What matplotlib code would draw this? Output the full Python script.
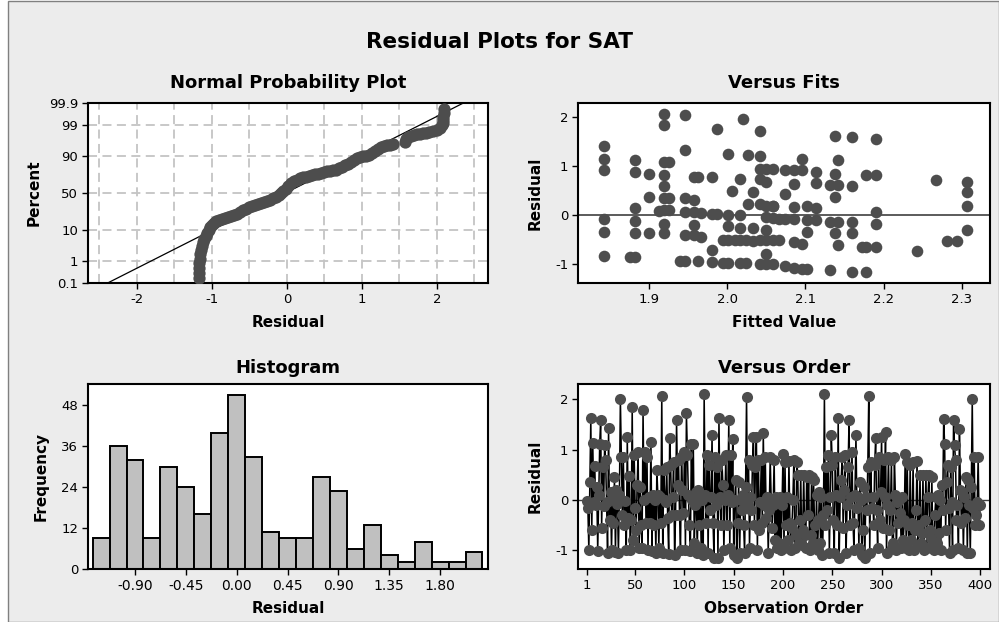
import matplotlib
matplotlib.use('Agg')
import matplotlib.pyplot as plt
from matplotlib.patches import Rectangle
from statistics import NormalDist

plt.rcParams['font.family'] = ['DejaVu Sans']
plt.rcParams['axes.unicode_minus'] = False  # minitab uses plain hyphens

# ---------------- data ----------------

# normal probability plot: sorted residuals and their plotting percent
npp_resid = [-1.172, -1.172, -1.170, -1.168, -1.163, -1.155, -1.145, -1.130, -1.115, -1.098,
             -1.080, -1.060, -1.040, -1.020, -1.000, -0.975, -0.945, -0.910, -0.870, -0.830,
             -0.790, -0.750, -0.710, -0.670, -0.630, -0.590, -0.550, -0.510, -0.470, -0.430,
             -0.390, -0.350, -0.310, -0.270, -0.230, -0.190, -0.150, -0.110, -0.075, -0.045,
             -0.015, 0.020, 0.055, 0.090, 0.130, 0.170, 0.210, 0.250, 0.290, 0.330,
             0.370, 0.410, 0.450, 0.490, 0.530, 0.570, 0.610, 0.650, 0.690, 0.730,
             0.770, 0.810, 0.850, 0.890, 0.930, 0.970, 1.010, 1.050, 1.090, 1.130,
             1.170, 1.210, 1.250, 1.290, 1.330, 1.380, 1.420, 1.570, 1.590, 1.620,
             1.660, 1.700, 1.740, 1.780, 1.820, 1.860, 1.900, 1.950, 2.000, 2.040,
             2.065, 2.075, 2.080, 2.085, 2.090, 2.093]
npp_pct = [0.18, 0.3, 0.5, 0.8, 1.2, 1.8, 2.5, 3.4, 4.5, 5.8,
           7.0, 8.6, 10.2, 12.0, 13.8, 15.5, 16.8, 17.8, 18.8, 19.6,
           20.6, 21.6, 22.6, 24.0, 25.8, 27.6, 29.4, 31.2, 33.0, 34.6,
           35.8, 36.8, 37.8, 39.2, 40.8, 42.6, 44.4, 47.0, 49.8, 52.6,
           55.6, 59.2, 62.8, 65.4, 67.6, 69.2, 70.4, 71.4, 72.2, 73.0,
           73.8, 74.6, 75.4, 76.2, 77.0, 77.6, 78.2, 79.0, 80.0, 81.4,
           82.8, 84.2, 85.6, 87.0, 88.4, 89.4, 89.8, 90.0, 90.6, 91.6,
           92.6, 93.4, 94.2, 94.8, 95.0, 95.2, 95.3, 96.0, 96.8, 97.2,
           97.4, 97.6, 97.8, 97.9, 98.0, 98.1, 98.2, 98.4, 98.5, 98.7,
           99.0, 99.2, 99.4, 99.55, 99.7, 99.8]
npp_line_mu = -0.018
npp_line_sigma = 0.767
pct_ticks = [0.1, 1, 10, 50, 90, 99, 99.9]
pct_labels = ['0.1', '1', '10', '50', '90', '99', '99.9']

# versus fits: (fitted value, residual) read column by column
fit_x = ([1.842] * 6 + [1.875] + [1.882] * 6 + [1.900] * 3 + [1.912] + [1.919] * 9 + [1.926] * 3
         + [1.940] + [1.946] * 6 + [1.958] * 5 + [1.962] * 2 + [1.966] * 2 + [1.980] * 4
         + [1.987] * 2 + [1.995] * 2 + [2.001] * 5 + [2.006] + [2.010] + [2.016] * 5 + [2.020]
         + [2.024] * 2 + [2.026] * 2 + [2.033] * 3 + [2.042] * 7 + [2.050] * 8 + [2.059] * 6
         + [2.066] * 2 + [2.074] * 4 + [2.085] * 6 + [2.095] * 4 + [2.102] * 4 + [2.114] * 4
         + [2.131] * 3 + [2.138] * 4 + [2.142] * 4 + [2.159] * 5 + [2.172] + [2.178] * 3
         + [2.190] * 5 + [2.242] + [2.267] + [2.281] + [2.294] + [2.306] * 4)
fit_y = [1.42, 1.15, 0.92, -0.07, -0.33, -0.82,
         -0.85,
         1.12, 0.88, 0.14, -0.12, -0.36, -0.85,
         0.85, 0.37, -0.37,
         0.08,
         2.07, 1.84, 1.08, 0.82, 0.59, 0.35, 0.10, -0.17, -0.37,
         1.08, 0.35, 0.10,
         -0.93,
         2.04, 1.33, 0.35, 0.06, -0.41, -0.93,
         0.32, 0.06, -0.19, -0.41, 0.78,
         -0.94, 0.78,
         0.05, -0.44,
         0.78, 0.03, -0.71, -0.95,
         1.77, 0.03,
         -0.97, -0.50,
         1.25, 0.00, -0.22, -0.50, -0.97,
         0.49,
         -0.50,
         0.74, 0.00, -0.26, -0.50, -0.97,
         1.97,
         -0.97, -0.50,
         1.22, 0.23,
         0.47, -0.26, -0.53,
         1.71, 1.20, 0.95, 0.74, 0.24, -0.51, -1.00,
         0.95, 0.67, 0.20, -0.04, -0.29, -0.51, -0.79, -1.00,
         0.95, 0.18, 0.20, -0.05, -0.51, -1.00,
         -0.51, -0.07,
         0.92, 0.44, -0.07, -1.04,
         0.92, 0.64, 0.16, -0.07, -0.55, -1.07,
         1.15, 0.92, -0.59, -1.09,
         0.18, -0.10, -0.33, -1.09,
         0.88, 0.65, 0.14, -0.10,
         0.61, -0.14, -1.11,
         1.61, 0.85, 0.37, -0.36,
         1.12, 0.61, -0.14, -0.61,
         1.59, 0.59, -0.14, -0.37, -1.16,
         -0.65,
         0.82, -0.65, -1.16,
         1.56, 0.82, 0.06, -0.17, -0.65,
         -0.72,
         0.73,
         -0.52,
         -0.52,
         0.67, 0.47, 0.20, -0.29]

# histogram: bin centres (width 0.15) and counts
hist_centers = [-1.20, -1.05, -0.90, -0.75, -0.60, -0.45, -0.30, -0.15, 0.00, 0.15, 0.30, 0.45,
                0.60, 0.75, 0.90, 1.05, 1.20, 1.35, 1.50, 1.65, 1.80, 1.95, 2.10]
hist_counts = [9, 36, 32, 9, 30, 24, 16, 40, 51, 33, 11, 9,
               9, 27, 23, 6, 13, 4, 2, 8, 2, 2, 5]
hist_ticks = [-0.90, -0.45, 0.00, 0.45, 0.90, 1.35, 1.80]
hist_labels = ['-0.90', '-0.45', '0.00', '0.45', '0.90', '1.35', '1.80']

# versus order: residuals in observation order (1..400)
order_resid = [
    -0.02, -0.15, -1.00, 0.35, 1.62, -0.60, 1.12, -0.05, 0.68, -0.10,
    0.25, -1.02, 0.10, 1.10, 1.58, -0.55, 0.65, -0.12, 1.08, 0.80,
    -0.05, -1.05, 1.42, -0.40, 0.15, -1.00, 0.02, -0.45, 0.45, -1.03,
    0.20, -0.08, -1.05, 0.10, 2.00, 0.85, -0.30, 0.85, -0.50, -0.02,
    -1.00, 1.25, -0.35, 0.48, -1.00, -0.40, 1.85, -0.80, 0.90, -0.15,
    -0.60, 0.30, 0.95, -0.95, 0.25, -0.50, -0.95, 1.78, 0.00, 0.95,
    -0.45, 0.85, -1.00, 0.05, -0.45, 1.15, -1.02, 0.10, -0.50, 0.00,
    -1.05, 0.60, 0.10, -0.95, 0.05, -0.45, 2.07, -1.05, 0.60, 0.00,
    -0.05, 0.65, -0.35, -1.08, 1.22, 0.70, -0.30, 0.05, 0.75, -1.10,
    -0.30, 1.58, 0.30, 0.80, -0.30, -1.00, 0.85, 0.20, -0.25, 0.95,
    -1.00, 1.72, 0.90, 0.10, -0.50, -1.02, 1.10, 0.00, 1.10, -0.85,
    -0.10, 0.15, -1.05, 0.20, -0.50, 0.05, -0.95, 0.00, -1.10, 2.10,
    0.10, -0.45, 0.90, -1.05, 0.70, -0.20, 0.05, 1.28, -0.45, -1.15,
    0.85, -0.10, 0.65, -1.15, 1.62, 0.05, -0.50, 0.80, 0.30, -1.00,
    0.00, 0.90, -0.50, 0.10, 1.58, -0.95, 0.90, -0.05, 1.20, -1.10,
    0.00, 0.40, -1.15, -0.45, 0.35, -1.05, 0.00, -0.20, 0.10, -0.50,
    -1.05, 0.25, 2.05, -0.10, 0.80, -0.95, 0.05, -0.20, 0.70, 1.25,
    -0.50, 0.65, 1.25, -1.00, 0.80, -0.60, -0.05, 0.80, -0.45, 1.32,
    -0.10, 0.85, -0.35, 0.05, -1.05, -0.20, 0.85, 0.00, -0.55, -0.10,
    0.80, -0.80, 0.05, -0.95, 0.00, -0.85, 0.05, -1.00, -0.10, 0.92,
    -0.95, 0.75, -0.50, 0.05, -0.80, 0.78, -0.45, -1.00, -0.55, 0.00,
    0.80, -0.95, -0.70, 0.75, 0.50, -0.85, -0.40, 0.50, -0.90, -0.60,
    0.50, -0.70, -0.95, 0.45, -0.30, 0.50, -1.00, -0.70, 0.45, -0.85,
    0.40, -0.50, -0.95, 0.10, -1.00, -0.40, 0.15, -0.85, 0.05, -1.10,
    -0.30, 2.10, -0.50, 0.65, -0.20, 0.90, -1.05, 0.05, 1.28, 0.70,
    -0.40, -1.05, 0.85, 0.10, -0.50, 1.62, -1.15, 0.05, 0.40, 0.85,
    -0.55, 0.20, 0.90, -1.05, -0.10, 0.65, 1.58, -0.50, 0.05, 0.95,
    -0.45, -1.00, 0.10, 1.28, -0.15, 0.05, -0.95, 0.35, 0.00, -1.10,
    -0.60, 0.25, -1.15, 0.05, -0.20, 0.65, 2.07, -1.05, 0.75, -0.15,
    0.05, -0.50, 0.70, 1.22, -0.20, -0.95, 0.85, -0.40, 0.15, 1.25,
    -0.55, 0.80, 0.05, 1.35, -1.05, -0.10, 0.85, -0.60, -0.20, 0.80,
    -0.95, -0.85, 0.85, 0.10, -1.00, -0.05, -0.45, 0.00, -0.25, -0.95,
    0.05, -0.80, -0.40, 0.92, -0.95, 0.75, -0.50, -1.00, 0.70, -0.80,
    -0.45, 0.75, -1.00, -0.60, -0.20, 0.78, -0.90, -0.50, 0.50, -0.85,
    -0.65, 0.50, -1.00, -0.40, 0.50, -0.95, 0.05, 0.50, -0.60, -0.75,
    0.45, -0.90, -1.00, -0.30, 0.05, -0.85, 0.10, -0.65, 0.00, -1.00,
    0.30, -0.20, 1.60, 1.10, -0.60, 0.35, 0.70, -0.15, -1.05, 0.65,
    -0.05, -1.00, 1.58, 1.08, 0.80, -0.40, -0.10, -0.95, 1.40, 0.20,
    -0.45, 0.15, -1.00, 0.05, -0.35, 0.45, -1.05, 0.40, -0.10, -1.05,
    0.25, 2.00, -0.15, 0.85, -0.50, -0.30, -0.05, 0.85, -0.50, -0.10,
]
order_ticks = [1, 50, 100, 150, 200, 250, 300, 350, 400]

# ---------------- styling ----------------
W, H = 999, 622
BG = '#ececec'
DOT = '#4d4d4d'
TICK_FS = 9.5
LABEL_FS = 11
TITLE_FS = 13


def axes_px(x0, y0, x1, y1):
    # pixel box (top-left origin) -> figure fraction rect
    return [x0 / W, 1 - y1 / H, (x1 - x0) / W, (y1 - y0) / H]


def style(ax, title, pad):
    ax.set_facecolor('white')
    for s in ax.spines.values():
        s.set_linewidth(1.5)
        s.set_color('black')
    ax.tick_params(direction='out', length=4, width=1, labelsize=TICK_FS, pad=3)
    ax.set_title(title, fontsize=TITLE_FS, fontweight='bold', pad=pad)


fig = plt.figure(figsize=(W / 100, H / 100), dpi=100, facecolor='white')
fig.patches.append(Rectangle((8 / W, 0), 1 - 8 / W, 1 - 1 / H, transform=fig.transFigure,
                             facecolor=BG, edgecolor='#808080', linewidth=1, zorder=-10))
fig.text(0.5, 1 - 42 / H, 'Residual Plots for SAT', ha='center', va='center',
         fontsize=15.5, fontweight='bold')

ax1 = fig.add_axes(axes_px(88, 103, 488, 283))
ax2 = fig.add_axes(axes_px(578, 103, 990, 283))
ax3 = fig.add_axes(axes_px(88, 384, 488, 569))
ax4 = fig.add_axes(axes_px(578, 384, 990, 569))

# ---- normal probability plot (y is normal quantile scale) ----
nd = NormalDist()
z_lo, z_hi = nd.inv_cdf(0.001), nd.inv_cdf(0.999)
style(ax1, 'Normal Probability Plot', 11)
for gx in [-2.5, -2.0, -1.5, -1.0, -0.5, 0.0, 0.5, 1.0, 1.5, 2.0, 2.5]:
    ax1.axvline(gx, color='#c4c4c4', lw=1.3, ls=(0, (5, 3)), zorder=0)
for p in pct_ticks[1:-1]:
    ax1.axhline(nd.inv_cdf(p / 100), color='#c4c4c4', lw=1.3, ls=(0, (5, 3)), zorder=0)
ax1.plot([npp_line_mu + npp_line_sigma * z_lo, npp_line_mu + npp_line_sigma * z_hi],
         [z_lo, z_hi], color='black', lw=0.9, zorder=2)
ax1.scatter(npp_resid, [nd.inv_cdf(p / 100) for p in npp_pct], s=78, color=DOT,
            zorder=3, linewidths=0)
ax1.set_xlim(-2.65, 2.68)
ax1.set_ylim(z_lo, z_hi)
ax1.set_xticks([-2, -1, 0, 1, 2])
ax1.set_yticks([nd.inv_cdf(p / 100) for p in pct_ticks])
ax1.set_yticklabels(pct_labels)
ax1.set_xlabel('Residual', fontsize=LABEL_FS, fontweight='bold')
ax1.set_ylabel('Percent', fontsize=LABEL_FS, fontweight='bold')
ax1.xaxis.set_label_coords(0.5, -0.18)
ax1.yaxis.set_label_coords(-0.115, 0.5)

# ---- versus fits ----
style(ax2, 'Versus Fits', 11)
ax2.axhline(0, color='#404040', lw=1.2, zorder=1)
ax2.scatter(fit_x, fit_y, s=70, color=DOT, zorder=3, linewidths=0)
ax2.set_xlim(1.809, 2.336)
ax2.set_ylim(-1.38, 2.29)
ax2.set_xticks([1.9, 2.0, 2.1, 2.2, 2.3])
ax2.set_xticklabels(['1.9', '2.0', '2.1', '2.2', '2.3'])
ax2.set_yticks([-1, 0, 1, 2])
ax2.set_xlabel('Fitted Value', fontsize=LABEL_FS, fontweight='bold')
ax2.set_ylabel('Residual', fontsize=LABEL_FS, fontweight='bold')
ax2.xaxis.set_label_coords(0.5, -0.18)
ax2.yaxis.set_label_coords(-0.085, 0.5)

# ---- histogram ----
style(ax3, 'Histogram', 8)
ax3.bar(hist_centers, hist_counts, width=0.15, color='#c0c0c0', edgecolor='black',
        linewidth=1.4, zorder=2)
ax3.set_xlim(-1.316, 2.224)
ax3.set_ylim(0, 54.3)
ax3.set_xticks(hist_ticks)
ax3.set_xticklabels(hist_labels)
ax3.set_yticks([0, 12, 24, 36, 48])
ax3.tick_params(axis='x', labelsize=10)
ax3.set_xlabel('Residual', fontsize=LABEL_FS, fontweight='bold')
ax3.set_ylabel('Frequency', fontsize=LABEL_FS, fontweight='bold')
ax3.xaxis.set_label_coords(0.5, -0.175)
ax3.yaxis.set_label_coords(-0.0975, 0.5)

# ---- versus order ----
style(ax4, 'Versus Order', 8)
ax4.axhline(0, color='#404040', lw=1.0, zorder=1)
ax4.plot(range(1, len(order_resid) + 1), order_resid, color='black', lw=1.1,
         marker='o', ms=8, mfc=DOT, mec=DOT, mew=0, zorder=3)
ax4.set_xlim(-8, 410)
ax4.set_ylim(-1.37, 2.30)
ax4.set_xticks(order_ticks)
ax4.set_yticks([-1, 0, 1, 2])
ax4.set_xlabel('Observation Order', fontsize=LABEL_FS, fontweight='bold')
ax4.set_ylabel('Residual', fontsize=LABEL_FS, fontweight='bold')
ax4.xaxis.set_label_coords(0.5, -0.175)
ax4.yaxis.set_label_coords(-0.085, 0.5)

fig.savefig('out.png', dpi=100, facecolor=fig.get_facecolor())
